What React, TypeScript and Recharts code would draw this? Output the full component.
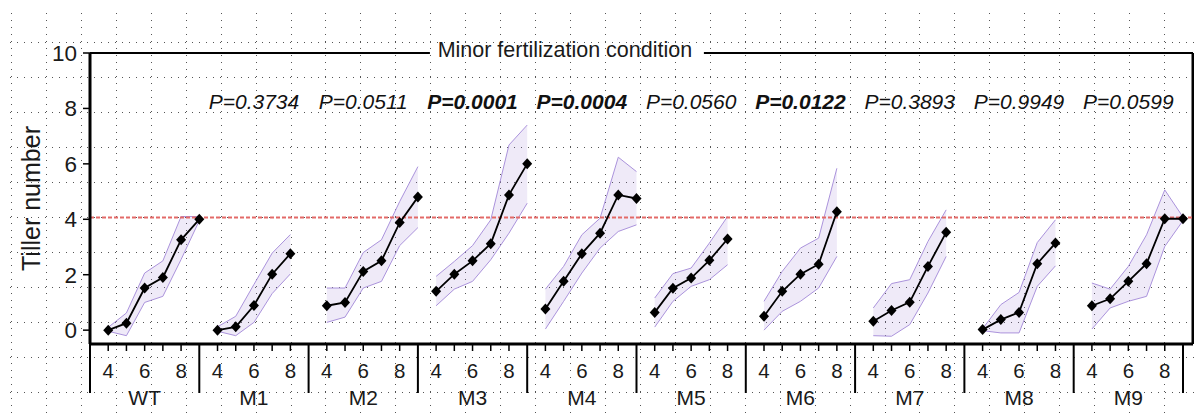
import React from "react";
import {
  ComposedChart,
  Area,
  Line,
  XAxis,
  YAxis,
  ReferenceLine,
  ReferenceDot,
} from "recharts";

const groups = ["WT", "M1", "M2", "M3", "M4", "M5", "M6", "M7", "M8", "M9"];

// mean tiller number per week, starting at week 4
const means = [
  [0, 0.25, 1.52, 1.9, 3.26, 4.0],
  [0, 0.12, 0.89, 2.02, 2.76],
  [0.88, 1.0, 2.12, 2.5, 3.88, 4.8],
  [1.4, 2.02, 2.5, 3.12, 4.88, 6.0],
  [0.76, 1.76, 2.76, 3.5, 4.88, 4.75],
  [0.64, 1.51, 1.88, 2.52, 3.29],
  [0.5, 1.4, 2.02, 2.38, 4.27],
  [0.32, 0.71, 1.01, 2.3, 3.53],
  [0.02, 0.38, 0.64, 2.4, 3.14],
  [0.88, 1.13, 1.76, 2.4, 4.02, 4.02],
];

const lows = [
  [-0.04, -0.2, 1.0, 1.22, 2.55, 3.95],
  [-0.04, -0.2, 0.28, 1.32, 2.03],
  [0.28, 0.47, 1.52, 1.76, 3.05, 3.7],
  [0.88, 1.48, 1.76, 2.54, 3.5, 4.58],
  [0.04, 1.04, 2.06, 2.96, 3.56, 3.8],
  [0.11, 1.04, 1.58, 1.82, 2.36],
  [0.0, 0.68, 1.04, 1.52, 2.66],
  [-0.2, -0.22, 0.2, 1.34, 2.66],
  [-0.02, -0.1, -0.1, 1.58, 2.32],
  [0.04, 0.8, 1.04, 1.22, 3.02, 3.95],
];

const highs = [
  [0.1, 0.62, 2.06, 2.5, 4.1, 4.1],
  [0.12, 0.5, 1.65, 2.78, 3.45],
  [1.52, 1.52, 2.8, 3.26, 4.64, 5.9],
  [1.94, 2.48, 3.05, 3.98, 6.68, 7.4],
  [1.48, 2.3, 3.44, 4.04, 6.24, 5.72],
  [1.16, 2.04, 2.24, 3.14, 4.1],
  [1.04, 2.12, 2.96, 3.32, 5.84],
  [0.8, 1.68, 1.82, 3.2, 4.34],
  [0.05, 0.92, 1.36, 3.16, 3.98],
  [1.7, 1.48, 2.3, 3.44, 5.06, 4.08],
];

// P values vs WT, for M1..M9
const pValues = ["0.3734", "0.0511", "0.0001", "0.0004", "0.0560", "0.0122", "0.3893", "0.9949", "0.0599"];

const yTicks = [0, 2, 4, 6, 8, 10];
const thresholdLine = 4.06;
const title = "Minor fertilization condition";

const FIRST_WEEK = 4;
const PANEL = 6; // each panel spans weeks 3..9
const FONT = "'Liberation Sans', Arial, sans-serif";

const rows: any[] = [];
groups.forEach((g, gi) => {
  means[gi].forEach((m, i) => {
    rows.push({
      x: gi * PANEL + FIRST_WEEK + i - 3,
      mean: m,
      range: [lows[gi][i], highs[gi][i]],
    });
  });
  rows.push({ x: gi * PANEL + FIRST_WEEK + means[gi].length - 3 + 0.5, mean: null, range: null });
});

const xTicks = Array.from({ length: groups.length * PANEL + 1 }, (_, i) => i);

const Diamond = (props: any) => {
  const { cx, cy, index } = props;
  if (cx == null || cy == null) return <g key={index} />;
  return (
    <path
      key={index}
      d={`M${cx},${cy - 5.5}L${cx + 5},${cy}L${cx},${cy + 5.5}L${cx - 5},${cy}Z`}
      fill="#000"
    />
  );
};

const XTick = (props: any) => {
  const { x, y, payload } = props;
  const v = payload.value;
  const local = v % PANEL;
  const gi = Math.floor(v / PANEL);
  if (local === 0) {
    return <line x1={x} x2={x} y1={y} y2={y + 49} stroke="#000" strokeWidth={2} />;
  }
  return (
    <g>
      <line x1={x} x2={x} y1={y} y2={y + 7} stroke="#000" strokeWidth={1.5} />
      {local % 2 === 1 && (
        <text x={x} y={y + 34} textAnchor="middle" fontSize={20.5} fill="#1a1a1a" fontFamily={FONT}>
          {local + 3}
        </text>
      )}
      {local === 3 && (
        <text x={x} y={y + 61} textAnchor="middle" fontSize={21} fill="#1a1a1a" fontFamily={FONT}>
          {groups[gi]}
        </text>
      )}
    </g>
  );
};

const YLabel = (props: any) => {
  const vb = props.viewBox;
  const x = vb.x + 40;
  const y = vb.y + vb.height / 2;
  return (
    <text
      x={x}
      y={y}
      transform={`rotate(-90, ${x}, ${y})`}
      textAnchor="middle"
      fontSize={25}
      fill="#1a1a1a"
      fontFamily={FONT}
    >
      Tiller number
    </text>
  );
};

function Background() {
  const cols: number[] = [];
  for (let x = 11; x < 1194; x += 34.94) cols.push(Math.round(x) + 0.5);
  const lines: number[] = [];
  for (let y = 42; y < 416; y += 35) lines.push(y + 0.5);
  return (
    <svg width={1194} height={416} style={{ position: "absolute", left: 0, top: 0 }}>
      {cols.map((x) => (
        <line key={"v" + x} x1={x} x2={x} y1={13} y2={416} stroke="#555" strokeDasharray="1 6" />
      ))}
      {lines.map((y) => (
        <line key={"h" + y} x1={10} x2={1194} y1={y} y2={y} stroke="#555" strokeDasharray="1 6" />
      ))}
    </svg>
  );
}

export default function App() {
  return (
    <div style={{ position: "relative", width: 1194, height: 416, background: "#fff" }}>
      <style>{"body{margin:0}"}</style>
      <Background />
      <div style={{ position: "absolute", left: 0, top: 0 }}>
        <ComposedChart
          width={1194}
          height={416}
          data={rows}
          margin={{ top: 53, right: 1, left: 0, bottom: 0 }}
        >
          <XAxis
            dataKey="x"
            type="number"
            domain={[0, 60.55]}
            allowDataOverflow
            ticks={xTicks}
            interval={0}
            tick={<XTick />}
            tickLine={false}
            tickSize={0}
            tickMargin={0}
            axisLine={{ stroke: "#000", strokeWidth: 3 }}
            height={72}
          />
          <YAxis
            type="number"
            domain={[-0.5, 10]}
            allowDataOverflow
            ticks={yTicks}
            width={90}
            tickSize={7}
            tickMargin={6}
            tick={{ fontSize: 22.5, fill: "#1a1a1a", fontFamily: FONT }}
            tickLine={{ stroke: "#000", strokeWidth: 1.5 }}
            axisLine={{ stroke: "#000", strokeWidth: 3 }}
            label={YLabel}
          />
          <ReferenceLine
            segment={[{ x: 0, y: 10 }, { x: 18.66, y: 10 }]}
            stroke="#000"
            strokeWidth={2}
          />
          <ReferenceLine
            segment={[{ x: 33.7, y: 10 }, { x: 60.55, y: 10 }]}
            stroke="#000"
            strokeWidth={2}
          />
          <ReferenceLine x={60.55} stroke="#000" strokeWidth={3} />
          <ReferenceDot
            x={26.07}
            y={10}
            r={0}
            fill="none"
            stroke="none"
            label={(p: any) => (
              <text
                x={p.viewBox.x}
                y={p.viewBox.y + 4}
                textAnchor="middle"
                fontSize={21.5}
                fill="#1a1a1a"
                fontFamily={FONT}
              >
                {title}
              </text>
            )}
          />
          {pValues.map((p, i) => {
            const sig = parseFloat(p) < 0.05;
            return (
              <ReferenceDot
                key={p + i}
                x={(i + 1) * PANEL + 3}
                y={7.97}
                r={0}
                fill="none"
                stroke="none"
                label={(lp: any) => (
                  <text
                    x={lp.viewBox.x}
                    y={lp.viewBox.y}
                    textAnchor="middle"
                    fontSize={21}
                    fontStyle="italic"
                    fontWeight={sig ? "bold" : "normal"}
                    fill="#111"
                    fontFamily={FONT}
                  >
                    {"P=" + p}
                  </text>
                )}
              />
            );
          })}
          <Area
            dataKey="range"
            type="linear"
            stroke="#ab93dc"
            strokeWidth={1}
            fill="#9575cd"
            fillOpacity={0.15}
            connectNulls={false}
            isAnimationActive={false}
            dot={false}
            activeDot={false}
          />
          <ReferenceLine
            y={thresholdLine}
            stroke="#e36a68"
            strokeWidth={2}
            strokeDasharray="4 2"
          />
          <Line
            dataKey="mean"
            type="linear"
            stroke="#000"
            strokeWidth={1.8}
            connectNulls={false}
            dot={Diamond}
            activeDot={false}
            isAnimationActive={false}
          />
        </ComposedChart>
      </div>
    </div>
  );
}
